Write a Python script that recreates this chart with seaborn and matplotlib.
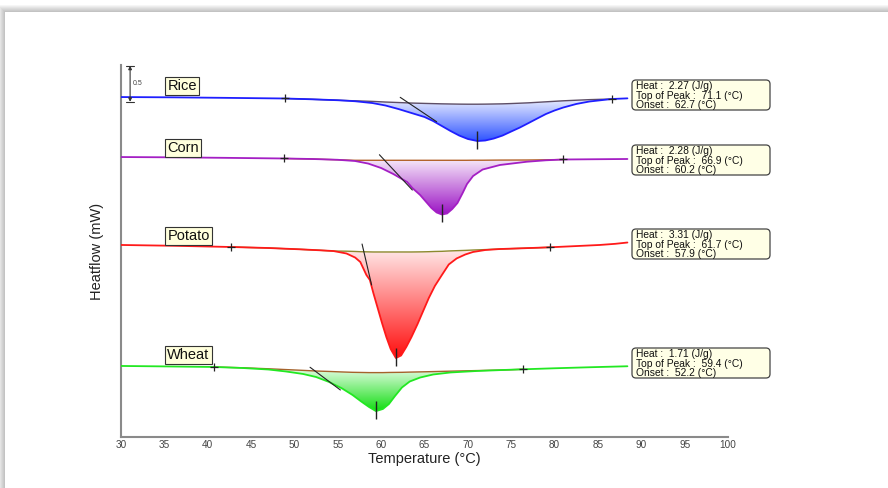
import numpy as np
import pandas as pd
import matplotlib
matplotlib.use("Agg")
import matplotlib.pyplot as plt
import seaborn as sns
from matplotlib.patches import Rectangle, FancyBboxPatch, PathPatch
from matplotlib.transforms import IdentityTransform
from matplotlib.colors import LinearSegmentedColormap
from matplotlib.ticker import MultipleLocator

# ---------------- data ----------------
samples = ["Rice", "Corn", "Potato", "Wheat"]

rice_temp = [30.0, 36.0, 42.0, 48.9, 52.0, 55.0, 57.0, 59.0, 60.5, 62.0, 63.5, 65.0, 66.0, 67.0,
             68.0, 69.0, 70.0, 71.1, 72.0, 73.0, 74.0, 75.0, 76.0, 77.0, 78.0, 79.0, 80.0, 81.0,
             82.5, 84.0, 86.6, 88.4]
rice_flow = [4.566, 4.562, 4.555, 4.546, 4.535, 4.522, 4.508, 4.483, 4.449, 4.400, 4.345, 4.290,
             4.234, 4.165, 4.096, 4.033, 3.985, 3.957, 3.964, 3.992, 4.033, 4.089, 4.144, 4.206,
             4.269, 4.331, 4.380, 4.421, 4.470, 4.504, 4.539, 4.548]
rice_base = [None, None, None, 4.546, 4.535, 4.522, 4.514, 4.506, 4.497, 4.490, 4.483, 4.478,
             4.475, 4.472, 4.470, 4.468, 4.467, 4.467, 4.468, 4.470, 4.472, 4.476, 4.481, 4.486,
             4.493, 4.500, 4.507, 4.514, 4.522, 4.530, 4.539, None]

corn_temp = [30.0, 36.0, 42.0, 48.8, 52.0, 55.0, 57.0, 58.5, 60.0, 61.4, 63.0, 63.6, 64.5, 65.2,
             65.8, 66.4, 67.0, 67.6, 68.2, 68.8, 69.4, 69.9, 70.6, 71.7, 73.7, 76.8, 79.0, 81.0,
             84.0, 88.4]
corn_flow = [3.735, 3.731, 3.724, 3.715, 3.708, 3.697, 3.680, 3.645, 3.583, 3.500, 3.389, 3.306,
             3.209, 3.112, 3.029, 2.967, 2.939, 2.953, 3.015, 3.098, 3.237, 3.361, 3.472, 3.562,
             3.625, 3.670, 3.690, 3.701, 3.704, 3.708]
corn_base = [None, None, None, 3.715, 3.708, 3.697, 3.690, 3.690, 3.690, 3.690, 3.690, 3.690,
             3.690, 3.690, 3.690, 3.690, 3.690, 3.690, 3.690, 3.690, 3.690, 3.690, 3.691, 3.691,
             3.693, 3.694, 3.697, 3.701, None, None]

potato_temp = [30.0, 36.0, 42.7, 47.0, 50.6, 53.0, 54.5, 56.0, 57.0, 57.6, 58.3, 58.7, 59.1, 59.6,
               60.1, 60.6, 61.1, 61.7, 62.3, 62.9, 63.5, 64.2, 64.8, 65.5, 66.2, 67.0, 67.8, 68.7,
               69.7, 70.6, 72.0, 73.7, 76.5, 79.5, 82.0, 85.2, 87.0, 88.4]
potato_flow = [2.517, 2.506, 2.489, 2.475, 2.457, 2.443, 2.433, 2.399, 2.343, 2.281, 2.101, 2.032,
               1.852, 1.644, 1.436, 1.242, 1.076, 0.951, 0.986, 1.104, 1.242, 1.422, 1.589, 1.783,
               1.950, 2.100, 2.247, 2.330, 2.385, 2.420, 2.447, 2.461, 2.472, 2.485, 2.499, 2.517,
               2.533, 2.551]
potato_base = [None, None, 2.489, 2.475, 2.457, 2.443, 2.433, 2.431, 2.427, 2.424, 2.422, 2.421,
               2.420, 2.420, 2.420, 2.420, 2.420, 2.420, 2.420, 2.420, 2.420, 2.421, 2.422, 2.424,
               2.427, 2.429, 2.434, 2.438, 2.442, 2.447, 2.453, 2.461, 2.472, 2.485, None, None,
               None, None]

wheat_temp = [30.0, 35.0, 40.7, 44.0, 47.0, 49.0, 51.0, 52.5, 54.0, 55.5, 56.7, 57.7, 58.6, 59.4,
              60.2, 60.9, 61.6, 62.4, 63.3, 64.5, 66.0, 68.0, 71.0, 74.0, 76.4, 80.0, 84.0, 88.4]
wheat_flow = [0.841, 0.835, 0.827, 0.813, 0.792, 0.765, 0.730, 0.688, 0.619, 0.529, 0.439, 0.349,
              0.273, 0.216, 0.245, 0.314, 0.425, 0.543, 0.626, 0.681, 0.723, 0.751, 0.771, 0.785,
              0.795, 0.809, 0.823, 0.837]
wheat_base = [None, None, 0.827, 0.816, 0.802, 0.791, 0.780, 0.771, 0.765, 0.758, 0.753, 0.751,
              0.749, 0.749, 0.749, 0.751, 0.752, 0.753, 0.756, 0.759, 0.763, 0.769, 0.777, 0.785,
              0.795, None, None, None]

# onset tangents: (T1, T2), (y1, y2)
tangent_temp = {"Rice": [62.2, 66.4], "Corn": [59.8, 63.6], "Potato": [57.8, 58.9], "Wheat": [51.8, 55.3]}
tangent_flow = {"Rice": [4.562, 4.224], "Corn": [3.767, 3.278], "Potato": [2.530, 1.963], "Wheat": [0.823, 0.508]}

heat = ["2.27", "2.28", "3.31", "1.71"]
top_of_peak = ["71.1", "66.9", "61.7", "59.4"]
onset = ["62.7", "60.2", "57.9", "52.2"]

line_colors = {"Rice": "#1f1fff", "Corn": "#a41fc4", "Potato": "#ff1a1a", "Wheat": "#22e822"}
fill_dark = {"Rice": "#2f54ff", "Corn": "#9a12c4", "Potato": "#ff0f0f", "Wheat": "#12dd12"}
fill_light = {"Rice": "#eef1ff", "Corn": "#f8ecfa", "Potato": "#ffeeee", "Wheat": "#eefeee"}
base_colors = {"Rice": "#5e4e66", "Corn": "#b3622a", "Potato": "#8c8a2e", "Wheat": "#a5622c"}

frames = []
for name, t, f, b in [("Rice", rice_temp, rice_flow, rice_base),
                      ("Corn", corn_temp, corn_flow, corn_base),
                      ("Potato", potato_temp, potato_flow, potato_base),
                      ("Wheat", wheat_temp, wheat_flow, wheat_base)]:
    frames.append(pd.DataFrame({"sample": name, "temp": t, "flow": f,
                                "base": pd.array(b, dtype="Float64")}))
df = pd.concat(frames, ignore_index=True)
df["base"] = df["base"].astype(float)

# ---------------- figure ----------------
sns.set_style("white")
plt.rcParams["font.family"] = ["Liberation Sans", "DejaVu Sans"]

W, H = 888, 488
fig = plt.figure(figsize=(W / 100, H / 100), dpi=100)
fig.patch.set_facecolor("white")

# card with soft shadow
for d in range(7, 0, -1):
    fig.patches.append(Rectangle(((5 - d) / W, -0.1), 1.2, (H - 12 + d) / H + 0.1,
                                 transform=fig.transFigure, fc="black", ec="none",
                                 alpha=0.035, zorder=-10))
fig.patches.append(Rectangle((5 / W, -0.1), 1.2, (H - 12) / H + 0.1,
                             transform=fig.transFigure, fc="white", ec="none", zorder=-9))

ax = fig.add_axes([121 / W, 1 - 437 / H, 607 / W, 372 / H])
ax.set_facecolor("none")

sns.lineplot(data=df, x="temp", y="flow", hue="sample", palette=line_colors,
             estimator=None, sort=False, legend=False, lw=1.3, ax=ax, zorder=4)

grad = np.linspace(0, 1, 256).reshape(-1, 1)
for name in samples:
    sub = df[df["sample"] == name]
    m = sub["base"].notna()
    T = sub["temp"][m].to_numpy()
    F = sub["flow"][m].to_numpy()
    B = sub["base"][m].to_numpy()
    poly = ax.fill_between(T, F, B, color="none", lw=0)
    pp = PathPatch(poly.get_paths()[0], transform=ax.transData, fc="none", ec="none")
    ax.add_patch(pp)
    cmap = LinearSegmentedColormap.from_list(name, [fill_dark[name], fill_light[name]])
    im = ax.imshow(grad, cmap=cmap, origin="lower", aspect="auto", interpolation="bilinear",
                   extent=[T.min(), T.max(), F.min(), B.max()], zorder=2)
    im.set_clip_path(pp)
    # integration baseline
    ax.plot(T, B, color=base_colors[name], lw=1.0, zorder=3)
    # integration limit markers
    ax.plot([T[0], T[-1]], [B[0], B[-1]], "+", color="#222222", ms=6, mew=0.9, zorder=6)
    # peak marker
    i = np.argmin(sub["flow"].to_numpy())
    ax.plot(sub["temp"].iloc[i], sub["flow"].iloc[i] + 0.02, marker="|", ms=13,
            color="#222222", mew=1.0, zorder=6)
    # onset tangent
    ax.plot(tangent_temp[name], tangent_flow[name], color="#222222", lw=0.8, zorder=5)

# sample name labels
label_y = {"Rice": 4.72, "Corn": 3.86, "Potato": 2.64, "Wheat": 0.99}
for name in samples:
    ax.text(35.35, label_y[name], name, fontsize=10.5, va="center", ha="left", color="#111111",
            zorder=7, bbox=dict(boxstyle="square,pad=0.15", fc="#ffffdc", ec="#333333", lw=0.8))

# result boxes (pixel positions from reference, top-left origin)
box_top = {"Rice": 80, "Corn": 145, "Potato": 229, "Wheat": 348}
for k, name in enumerate(samples):
    y0 = box_top[name]
    fig.add_artist(FancyBboxPatch((632, H - y0 - 30), 138, 30,
                                  boxstyle="round,pad=0,rounding_size=4",
                                  transform=IdentityTransform(), fc="#ffffe6",
                                  ec="#444444", lw=0.9, zorder=8))
    lines = [f"Heat :  {heat[k]} (J/g)", f"Top of Peak :  {top_of_peak[k]} (°C)",
             f"Onset :  {onset[k]} (°C)"]
    for j, s in enumerate(lines):
        fig.text(636, H - (y0 + 6.0 + 9.6 * j), s, transform=IdentityTransform(),
                 fontsize=7.4, va="center", ha="left", color="#111111", zorder=9)

# 0.5 mW scale bar
ax.annotate("", xy=(31.05, 5.0), xytext=(31.05, 4.5),
            arrowprops=dict(arrowstyle="<|-|>", color="#333333", lw=0.8,
                            mutation_scale=5, shrinkA=0, shrinkB=0), zorder=7)
ax.plot([30.6, 31.5], [5.0, 5.0], color="#333333", lw=0.8, zorder=7)
ax.plot([30.6, 31.5], [4.5, 4.5], color="#333333", lw=0.8, zorder=7)
ax.text(31.4, 4.75, "0.5", fontsize=5, color="#444444", va="center", ha="left")

# axes styling
ax.set_xlim(30, 100)
ax.set_ylim(-0.143, 5.01)
for sp in ["top", "right"]:
    ax.spines[sp].set_visible(False)
for sp in ["left", "bottom"]:
    ax.spines[sp].set_color("#8a8a8a")
    ax.spines[sp].set_linewidth(1.5)
ax.xaxis.set_major_locator(MultipleLocator(5))
ax.xaxis.set_minor_locator(MultipleLocator(1))
ax.yaxis.set_major_locator(MultipleLocator(0.5))
ax.yaxis.set_minor_locator(MultipleLocator(0.25))
ax.tick_params(axis="x", which="major", direction="out", length=2, width=0.8, color="#8a8a8a",
               labelsize=7.2, labelcolor="#444444", pad=0.3)
ax.tick_params(axis="x", which="minor", direction="out", length=1.5, width=0.6, color="#9a9a9a")
ax.tick_params(axis="y", which="both", direction="out", length=2.5, width=0.6, color="#9a9a9a",
               labelleft=False)
ax.set_xlabel("Temperature (°C)", fontsize=10.5, color="#222222", labelpad=1.5)
ax.set_ylabel("Heatflow (mW)", fontsize=10.5, color="#222222", labelpad=12)

fig.savefig("out.png", dpi=100)
